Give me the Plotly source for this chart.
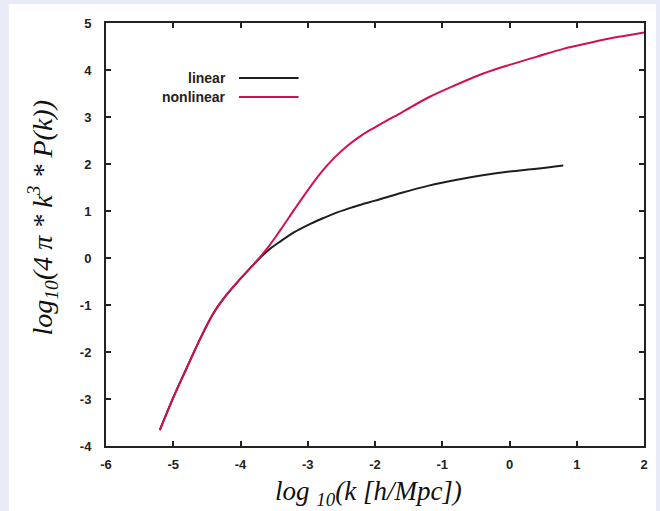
import plotly.graph_objects as go

# log10(k [h/Mpc])
x_nonlinear = [-5.2, -5.0, -4.8, -4.6, -4.4, -4.2, -4.0, -3.8, -3.6, -3.4, -3.2, -3.0,
               -2.8, -2.6, -2.4, -2.2, -2.0, -1.6, -1.2, -0.8, -0.4, 0.0, 0.4, 0.8,
               1.2, 1.6, 2.0]
y_nonlinear = [-3.66, -2.97, -2.34, -1.72, -1.17, -0.77, -0.44, -0.13, 0.21, 0.61, 1.03, 1.44,
               1.82, 2.14, 2.40, 2.61, 2.78, 3.10, 3.42, 3.68, 3.92, 4.11, 4.28, 4.45,
               4.58, 4.70, 4.80]

x_linear = [-5.2, -5.0, -4.8, -4.6, -4.4, -4.2, -4.0, -3.8, -3.6, -3.4, -3.2, -3.0,
            -2.8, -2.6, -2.4, -2.2, -2.0, -1.6, -1.2, -0.8, -0.4, 0.0, 0.4, 0.8]
y_linear = [-3.66, -2.97, -2.34, -1.72, -1.17, -0.77, -0.44, -0.13, 0.15, 0.36, 0.55, 0.70,
            0.83, 0.95, 1.05, 1.14, 1.22, 1.39, 1.54, 1.66, 1.76, 1.84, 1.90, 1.97]

x_ticks = [-6, -5, -4, -3, -2, -1, 0, 1, 2]
x_ticktext = ["-6", "-5", "-4", "-3", "-2", "-1", "0", "1", "2"]
y_ticks = [-4, -3, -2, -1, 0, 1, 2, 3, 4, 5]
y_ticktext = ["-4", "-3", "-2", "-1", "0", "1", "2", "3", "4", "5"]

series_names = ["linear", "nonlinear"]
series_colors = ["#1e1e1e", "#d2104f"]

fig = go.Figure()
fig.add_trace(go.Scatter(x=x_linear, y=y_linear, mode="lines", name=series_names[0],
                         line=dict(color=series_colors[0], width=2, shape="spline")))
fig.add_trace(go.Scatter(x=x_nonlinear, y=y_nonlinear, mode="lines", name=series_names[1],
                         line=dict(color=series_colors[1], width=2, shape="spline")))

axis_common = dict(
    showline=True, linecolor="#222", linewidth=2, mirror="ticks",
    ticks="inside", ticklen=5, tickwidth=1.5, tickcolor="#222",
    showgrid=False, zeroline=False,
    tickfont=dict(family="Liberation Sans", size=13, color="#222", weight="bold"),
)

fig.update_xaxes(range=[-6, 2], tickvals=x_ticks, ticktext=x_ticktext,
                 ticklabelstandoff=5, **axis_common)
fig.update_yaxes(range=[-4, 5], tickvals=y_ticks, ticktext=y_ticktext,
                 ticklabelstandoff=10, **axis_common)

# white panel over light-blue page border
fig.add_shape(type="rect", xref="paper", yref="paper",
              x0=(8 - 106) / 542, x1=(660 - 106) / 542,
              y0=1 - (511 - 23) / 423, y1=1 - (4 - 23) / 423,
              fillcolor="white", line=dict(width=0), layer="below")

# legend (text left of sample line, as in the reference)
leg_y = [1 - (78 - 23) / 423, 1 - (97 - 23) / 423]
for name, color, yy in zip(series_names, series_colors, leg_y):
    fig.add_annotation(x=(229 - 106) / 542, y=yy, xref="paper", yref="paper",
                       text=name, showarrow=False, xanchor="right", yanchor="middle",
                       font=dict(family="Liberation Sans", size=14, color="#222", weight="bold"))
    fig.add_shape(type="line", xref="paper", yref="paper",
                  x0=(240 - 106) / 542, x1=(300 - 106) / 542, y0=yy, y1=yy,
                  line=dict(color=color, width=2))

# axis titles
fig.add_annotation(x=(370 - 106) / 542, y=1 - (493 - 23) / 423, xref="paper", yref="paper",
                   text="<i>log <sub>10</sub>(k [h/Mpc])</i>", showarrow=False,
                   xanchor="center", yanchor="middle",
                   font=dict(family="Liberation Serif", size=27, color="#111"))
fig.add_annotation(x=(42 - 106) / 542, y=1 - (218 - 23) / 423, xref="paper", yref="paper",
                   text="<i>log<sub>10</sub>(4 π * k<sup>3</sup> * P(k))</i>", showarrow=False,
                   textangle=-90, xanchor="center", yanchor="middle",
                   font=dict(family="Liberation Serif", size=28, color="#111"))

fig.update_layout(
    width=660, height=511,
    margin=dict(l=106, r=12, t=23, b=65),
    paper_bgcolor="#e6ebf7", plot_bgcolor="white",
    showlegend=False,
)

fig.write_html("out.html", config={"displayModeBar": False},
               post_script="document.body.style.margin='0';document.body.style.padding='0';")
